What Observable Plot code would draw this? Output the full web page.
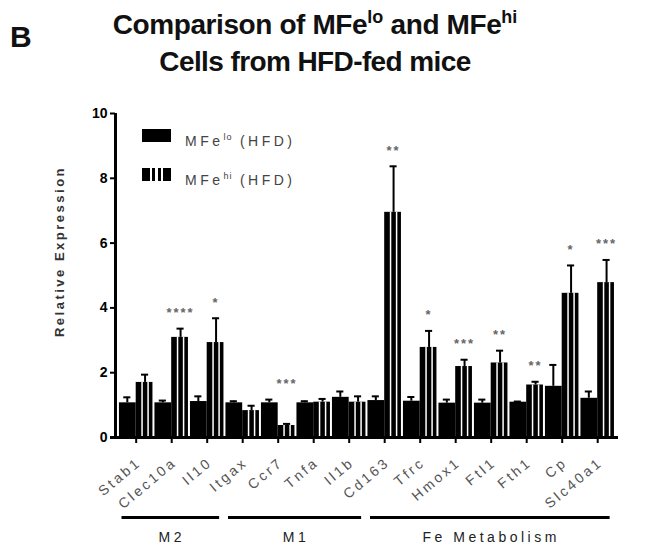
<!DOCTYPE html>
<html><head><meta charset="utf-8">
<script src="https://cdn.jsdelivr.net/npm/d3@7"></script>
<script src="https://cdn.jsdelivr.net/npm/@observablehq/plot@0.6"></script>
<style>
body{margin:0;background:#fff;font-family:"Liberation Sans",Arial,sans-serif;}
#wrap{position:relative;width:652px;height:548px;overflow:hidden;background:#fff;}
.t{position:absolute;font-weight:bold;color:#111;line-height:1;white-space:nowrap;}
.sup{font-size:18px;position:relative;top:-11px;letter-spacing:0;}
.lg{position:absolute;font-size:14px;line-height:1;color:#444;letter-spacing:3.5px;white-space:nowrap;}
.lsup{font-size:9px;position:relative;top:-6px;letter-spacing:1px;}
#chart{position:absolute;left:0;top:90px;}
</style></head><body>
<div id="wrap">
  <div class="t" style="left:10px;top:22px;font-size:30px">B</div>
  <div class="t" style="left:0;width:630px;text-align:center;top:11px;font-size:28px;letter-spacing:-0.4px">Comparison of MFe<span class="sup">lo</span> and MFe<span class="sup">hi</span></div>
  <div class="t" style="left:0;width:630px;text-align:center;top:48px;font-size:28px;letter-spacing:-0.6px">Cells from HFD-fed mice</div>
  <div id="chart"></div>
  <div style="position:absolute;left:142px;top:129px;width:29px;height:13px;background:#000"></div>
  <div class="lg" style="left:185px;top:134px">MFe<span class="lsup">lo</span> (HFD)</div>
  <div style="position:absolute;left:142px;top:168px;width:29px;height:13px;background:linear-gradient(to right,#000 0 28%,#fff 28% 36%,#000 36% 46%,#fff 46% 54%,#000 54% 64%,#fff 64% 72%,#000 72%)"></div>
  <div class="lg" style="left:185px;top:173px">MFe<span class="lsup">hi</span> (HFD)</div>
</div>
<script>
const genes = ["Stab1","Clec10a","Il10","Itgax","Ccr7","Tnfa","Il1b","Cd163","Tfrc","Hmox1","Ftl1","Fth1","Cp","Slc40a1"];
const loMean = [1.07,1.07,1.11,1.07,1.07,1.07,1.24,1.14,1.12,1.06,1.06,1.09,1.58,1.21];
const loUpper = [1.24,1.14,1.27,1.12,1.17,1.12,1.42,1.27,1.25,1.17,1.17,1.11,2.24,1.42];
const hiMean = [1.70,3.09,2.93,0.83,0.37,1.09,1.09,6.95,2.78,2.19,2.30,1.62,4.45,4.78];
const hiUpper = [1.94,3.36,3.68,0.98,0.42,1.19,1.27,8.37,3.29,2.40,2.68,1.72,5.31,5.48];
const stars = ["","****","*","","***","","","**","*","***","**","**","*","***"];
const groupNames = ["M2","M1","Fe Metabolism"];
const groupFirst = ["Stab1","Itgax","Cd163"];
const groupLast = ["Il10","Il1b","Slc40a1"];
const yTicks = [0,2,4,6,8,10];

const rows = genes.map((g,i)=>({i, gene:g, lo:loMean[i], loE:loUpper[i], hi:hiMean[i], hiE:hiUpper[i], star:stars[i],
  starY: Math.max(loUpper[i], hiUpper[i]) + 0.58}));
const stripeRows = rows.flatMap(d => [-1,1].map(s => ({x: d.i + 0.25 + s*0.085, y: d.hi})));
const groups = groupNames.map((n,k)=>({name:n, first:genes.indexOf(groupFirst[k]), last:genes.indexOf(groupLast[k])}));
const xMin = -0.583, xMax = 13.586;

const chart = Plot.plot({
  width: 652, height: 458,
  marginTop: 23, marginBottom: 111, marginLeft: 115, marginRight: 34,
  x: {domain: [xMin, xMax]},
  y: {domain: [0, 10]},
  style: {fontFamily: "Liberation Sans, Arial, sans-serif", background: "transparent", overflow: "visible"},
  marks: [
    Plot.rectY(rows, {x1: d => d.i - 0.5, x2: d => d.i, y: "lo", fill: "#000", insetLeft: 1}),
    Plot.rectY(rows, {x1: d => d.i, x2: d => d.i + 0.5, y: "hi", fill: "#000", insetRight: 1}),
    Plot.ruleX(stripeRows, {x: "x", y1: d => 0, y2: "y", stroke: "#fff", strokeWidth: 1.5, insetTop: 1.5}),
    Plot.ruleX(rows, {x: d => d.i - 0.25, y1: "lo", y2: "loE", strokeWidth: 2}),
    Plot.ruleY(rows, {y: "loE", x1: d => d.i - 0.35, x2: d => d.i - 0.15, strokeWidth: 2}),
    Plot.ruleX(rows, {x: d => d.i + 0.25, y1: "hi", y2: "hiE", strokeWidth: 2}),
    Plot.ruleY(rows, {y: "hiE", x1: d => d.i + 0.15, x2: d => d.i + 0.35, strokeWidth: 2}),
    Plot.text(rows.filter(d => d.star), {x: d => d.i + 0.25, y: "starY", text: "star", fontSize: 13, fontWeight: "bold", fill: "#666", dy: 3}),
    Plot.axisY({ticks: yTicks, tickSize: 5, tickPadding: 3, fontSize: 14, fontWeight: "bold", label: null, strokeWidth: 2}),
    Plot.axisX({ticks: d3.range(genes.length), tickFormat: () => "", tickSize: 6, label: null, strokeWidth: 2}),
    Plot.text(rows, {x: "i", y: d => 0, text: "gene", rotate: -40, textAnchor: "end", dx: 3, dy: 23, fontSize: 14, fill: "#555"}),
    Plot.ruleY([0], {strokeWidth: 3, insetLeft: -5}),
    Plot.ruleX([xMin], {y1: 0, y2: 10, strokeWidth: 3}),
    Plot.text(["Relative Expression"], {frameAnchor: "left", textAnchor: "middle", rotate: -90, dx: -56, dy: -24, fontSize: 13, fontWeight: "bold", fill: "#333"}),
    Plot.ruleY(groups, {y: d => 0, x1: d => d.first - 0.4, x2: d => d.last + 0.35, dy: 80, strokeWidth: 3}),
    Plot.text(groups, {x: d => (d.first + d.last) / 2, y: d => 0, dy: 100, text: "name", fontSize: 14, fill: "#222"})
  ]
});
document.getElementById("chart").appendChild(chart);
const svg = d3.select(chart);
const spacing = new Map([["Relative Expression", "2.5px"]]);
genes.forEach(g => spacing.set(g, "2.8px"));
groupNames.forEach(g => spacing.set(g, "3.5px"));
stars.forEach(s => { if (s) spacing.set(s, "2px"); });
svg.selectAll("text").each(function() {
  const s = spacing.get(this.textContent);
  if (s) this.style.letterSpacing = s;
});
</script>
</body></html>
